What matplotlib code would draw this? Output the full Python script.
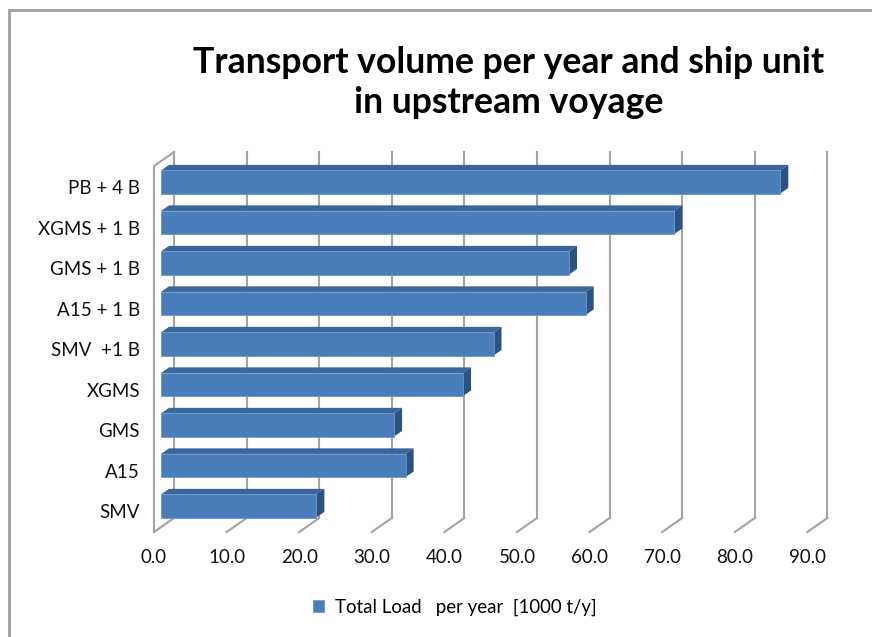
import matplotlib.pyplot as plt
from matplotlib.patches import Polygon, Rectangle

# data (bottom to top)
categories = ["SMV", "A15", "GMS", "XGMS", "SMV  +1 B", "A15 + 1 B", "GMS + 1 B", "XGMS + 1 B", "PB + 4 B"]
load = [21.4, 33.7, 32.1, 41.6, 45.8, 58.5, 56.2, 70.7, 85.3]
ticks = [0, 10, 20, 30, 40, 50, 60, 70, 80, 90]
tick_labels = ["%.1f" % t for t in ticks]

plt.rcParams['font.family'] = ['Lato', 'DejaVu Sans']

W, H = 872, 637
fig = plt.figure(figsize=(W / 100, H / 100), dpi=100)
ax = fig.add_axes([0, 0, 1, 1])
ax.axis("off")

# pixel geometry of the bar front plane
X0, SX = 161, 7.26
Y0, SY = 506, 40.5
ax.set_xlim((0 - X0) / SX, (W - X0) / SX)
ax.set_ylim((Y0 - H) / SY, Y0 / SY)

# depth vector of the 3d box (data units)
DX, DY = 20 / SX, 14 / SY
f_front, f_back = -0.35, 0.65
bar_d = 0.4
y_floor = -0.521
y_top = 8.74

grid_col = "#a3a3a3"
# back wall gridlines and floor diagonals
for t in ticks:
    xb = t + f_back * DX
    xf = t + f_front * DX
    yb = y_floor + f_back * DY
    yf = y_floor + f_front * DY
    ax.plot([xb, xb], [yb, y_top], color=grid_col, lw=1.5, zorder=1)
    ax.plot([xb, xf], [yb, yf], color=grid_col, lw=1.5, zorder=1)
    ax.text(xf, -1.28, tick_labels[t // 10], ha="center", va="center", fontsize=13.5, color="#111111")

# left wall
xl = f_front * DX
ax.plot([xl, xl], [y_floor + f_front * DY, y_top - DY], color=grid_col, lw=1.5, zorder=1)
ax.plot([xl, f_back * DX], [y_top - DY, y_top], color=grid_col, lw=1.5, zorder=1)

# bars
h = 0.57
front_col = "#4a7ebb"
top_col = "#3b669c"
side_col = "#2c5282"
dx, dy = bar_d * DX, bar_d * DY
bars = ax.barh(range(len(load)), load, height=h, color=front_col,
               edgecolor="#6d97cc", linewidth=0.6, zorder=3,
               label="Total Load   per year  [1000 t/y]")
for i, v in enumerate(load):
    top = Polygon([(0, i + h / 2), (v, i + h / 2), (v + dx, i + h / 2 + dy), (dx, i + h / 2 + dy)],
                  closed=True, facecolor=top_col, edgecolor="none", zorder=2)
    side = Polygon([(v, i - h / 2), (v, i + h / 2), (v + dx, i + h / 2 + dy), (v + dx, i - h / 2 + dy)],
                   closed=True, facecolor=side_col, edgecolor="none", zorder=2)
    ax.add_patch(top)
    ax.add_patch(side)
    ax.text(-2.9, i + f_front * DY - 0.05, categories[i], ha="right", va="center", fontsize=13.5, color="#111111")

# title
fig.text(0.583, 0.871, "Transport volume per year and ship unit\nin upstream voyage",
         ha="center", va="center", fontsize=25.7, fontweight="bold", linespacing=1.25)

# legend
fig.legend(handles=[bars], loc="center", bbox_to_anchor=(0.522, 0.047), frameon=False,
           fontsize=13.4, handlelength=0.6, handleheight=0.6, handletextpad=0.6)

# outer frame
fig.patches.append(Rectangle((9 / W, -0.1), 1.2, (H - 10) / H + 0.1, transform=fig.transFigure,
                             fill=False, edgecolor="#a0a0a0", linewidth=2))

fig.savefig("out.png", dpi=100)
